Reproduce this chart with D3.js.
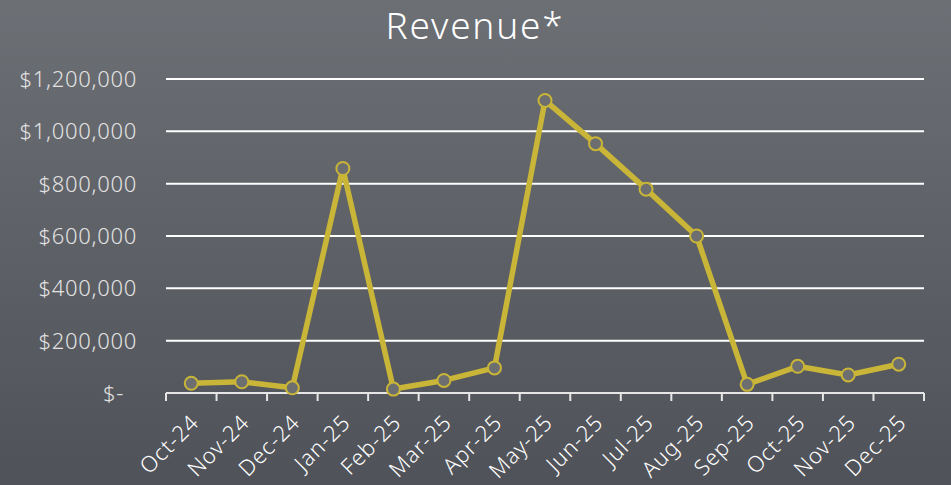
<!DOCTYPE html>
<html>
<head>
<meta charset="utf-8">
<script src="https://cdn.jsdelivr.net/npm/d3@7"></script>
<style>
  html, body { margin: 0; padding: 0; }
  body { width: 951px; height: 485px; overflow: hidden; }
  text { font-family: "Noto Sans", "DejaVu Sans", sans-serif; font-weight: 300; }
</style>
</head>
<body>
<div id="chart"></div>
<script>
var months = ["Oct-24", "Nov-24", "Dec-24", "Jan-25", "Feb-25", "Mar-25", "Apr-25", "May-25",
              "Jun-25", "Jul-25", "Aug-25", "Sep-25", "Oct-25", "Nov-25", "Dec-25"];
var revenue = [37000, 43000, 20000, 858000, 15000, 48000, 96000, 1118000,
               953000, 779000, 600000, 33000, 102000, 69000, 110000];
var y_ticks = [0, 200000, 400000, 600000, 800000, 1000000, 1200000];
var title = "Revenue*";

var width = 951;
var height = 485;
var margin = { "left": 166, "right": 27, "top": 79, "bottom": 92 };

var svg = d3.select("#chart")
    .append("svg")
    .attr("width", width)
    .attr("height", height);

var grad = svg.append("defs").append("linearGradient")
    .attr("id", "bg")
    .attr("x1", 0).attr("y1", 0).attr("x2", 0).attr("y2", 1);
grad.append("stop").attr("offset", "0%").attr("stop-color", "#6c6f74");
grad.append("stop").attr("offset", "100%").attr("stop-color", "#4f5258");

svg.append("rect")
    .attr("width", width)
    .attr("height", height)
    .attr("fill", "url(#bg)");

var x_scale = d3.scaleBand()
    .domain(months)
    .range([margin.left, width - margin.right]);

var y_scale = d3.scaleLinear()
    .domain([0, 1200000])
    .range([height - margin.bottom, margin.top]);

// gridlines
svg.append("g")
  .selectAll("line")
  .data(y_ticks.filter(function(d) { return d > 0; }))
  .enter()
  .append("line")
  .attr("x1", margin.left)
  .attr("x2", width - margin.right)
  .attr("y1", function(d) { return y_scale(d); })
  .attr("y2", function(d) { return y_scale(d); })
  .attr("stroke", "#ffffff")
  .attr("stroke-width", 2);

// y labels
var fmt = d3.format(",");
svg.append("g")
  .selectAll("text")
  .data(y_ticks)
  .enter()
  .append("text")
  .attr("x", function(d) { return d === 0 ? 124 : 137; })
  .attr("y", function(d) { return y_scale(d); })
  .attr("dy", "0.36em")
  .attr("text-anchor", "end")
  .attr("fill", "#e2e2e2")
  .style("font-size", "22px")
  .style("letter-spacing", "0.7px")
  .text(function(d) { return d === 0 ? "$-" : "$" + fmt(d); });

// x axis
var x_axis = d3.axisBottom(x_scale).tickSize(0).tickPadding(0);
var xg = svg.append("g")
  .attr("transform", "translate(0," + y_scale(0) + ")")
  .call(x_axis);
xg.select(".domain").remove();

xg.append("line")
  .attr("x1", margin.left)
  .attr("x2", width - margin.right)
  .attr("stroke", "#e6e6e6")
  .attr("stroke-width", 2);

var bounds = months.map(function(m) { return x_scale(m); });
bounds.push(width - margin.right);
xg.selectAll(".bound")
  .data(bounds)
  .enter()
  .append("line")
  .attr("class", "bound")
  .attr("x1", function(d) { return d; })
  .attr("x2", function(d) { return d; })
  .attr("y1", 0)
  .attr("y2", 8)
  .attr("stroke", "#e6e6e6")
  .attr("stroke-width", 2);

xg.selectAll(".tick text")
  .attr("fill", "#ffffff")
  .attr("text-anchor", "end")
  .attr("dy", "0")
  .attr("y", 0)
  .attr("x", 0)
  .attr("transform", "translate(9,31) rotate(-45)")
  .style("font-size", "22px")
  .style("letter-spacing", "0.9px");

// line
var line = d3.line()
  .x(function(d, i) { return x_scale(months[i]) + x_scale.bandwidth() / 2; })
  .y(function(d) { return y_scale(d); });

svg.append("path")
  .datum(revenue)
  .attr("d", line)
  .attr("fill", "none")
  .attr("stroke", "#c9b537")
  .attr("stroke-width", 5.5)
  .attr("stroke-linejoin", "round");

svg.selectAll(".pt")
  .data(revenue)
  .enter()
  .append("circle")
  .attr("class", "pt")
  .attr("cx", function(d, i) { return x_scale(months[i]) + x_scale.bandwidth() / 2; })
  .attr("cy", function(d) { return y_scale(d); })
  .attr("r", 6.5)
  .attr("fill", "#6d6e70")
  .attr("stroke", "#c9b537")
  .attr("stroke-width", 2);

svg.append("text")
  .attr("x", 475)
  .attr("y", 39)
  .attr("text-anchor", "middle")
  .attr("fill", "#ffffff")
  .style("font-size", "37px")
  .style("letter-spacing", "1.8px")
  .text(title);
</script>
</body>
</html>
